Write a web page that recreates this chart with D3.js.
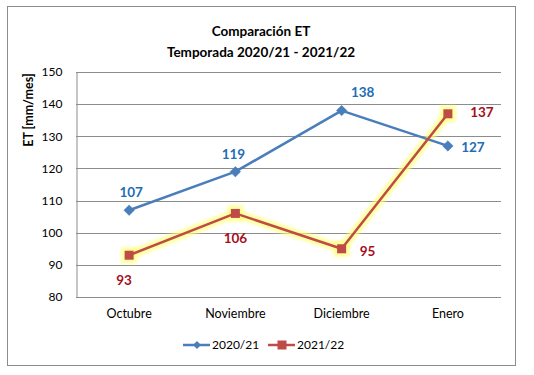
<!DOCTYPE html>
<html>
<head>
<meta charset="utf-8">
<script src="https://cdn.jsdelivr.net/npm/d3@7"></script>
<style>
  body { margin: 0; background: #fff; }
  svg text { font-family: Lato, "Open Sans", sans-serif; }
</style>
</head>
<body>
<div class="chart"></div>
<script>
// data
var months = ['Octubre', 'Noviembre', 'Diciembre', 'Enero'];
var et2021 = [107, 119, 138, 127];
var et2122 = [93, 106, 95, 137];
var yTicks = [80, 90, 100, 110, 120, 130, 140, 150];

var w = 534, h = 375;
var svg = d3.select('div.chart').append('svg')
  .attr('width', w).attr('height', h);

// outer frame
svg.append('rect')
  .attr('x', 7.5).attr('y', 6.5).attr('width', 508).attr('height', 359)
  .attr('fill', '#fff').attr('stroke', '#8c8c8c').attr('stroke-width', 1);

var plotL = 76, plotR = 501, plotT = 72, plotB = 297;

var x = d3.scaleBand().domain(months).range([plotL, plotR]);
var y = d3.scaleLinear().domain([80, 150]).range([plotB, plotT]);
var cx = function(d, i) { return x(months[i]) + x.bandwidth() / 2; };

// glow filter for 2021/22
var defs = svg.append('defs');
var f = defs.append('filter').attr('id', 'glow')
  .attr('x', '-20%').attr('y', '-20%').attr('width', '140%').attr('height', '140%');
f.append('feGaussianBlur').attr('stdDeviation', 1.8);

// gridlines
svg.append('g').selectAll('line').data(yTicks).enter().append('line')
  .attr('x1', plotL).attr('x2', plotR)
  .attr('y1', function(d) { return Math.round(y(d)) + 0.5; })
  .attr('y2', function(d) { return Math.round(y(d)) + 0.5; })
  .attr('stroke', '#8c8c8c').attr('stroke-width', 1);

// y axis
var yAxis = svg.append('g').attr('transform', 'translate(' + (plotL + 0.5) + ',0)')
  .call(d3.axisLeft(y).tickValues(yTicks).tickSize(0).tickPadding(14));
yAxis.select('.domain').attr('stroke', '#8c8c8c');
yAxis.selectAll('text').attr('font-size', 12).attr('fill', '#000');

// x axis
var xAxis = svg.append('g').attr('transform', 'translate(0,' + (plotB + 0.5) + ')')
  .call(d3.axisBottom(x).tickSize(0).tickPadding(12));
xAxis.select('.domain').remove();
xAxis.selectAll('text').attr('font-size', 12.5).attr('fill', '#000');

// title
svg.append('text').attr('x', 261).attr('y', 36).attr('text-anchor', 'middle')
  .attr('font-weight', 'bold').attr('font-size', 13.5).text('Comparación ET');
svg.append('text').attr('x', 261).attr('y', 57).attr('text-anchor', 'middle')
  .attr('font-weight', 'bold').attr('font-size', 13.5).text('Temporada 2020/21 - 2021/22');

// y label
svg.append('text').attr('transform', 'translate(33,110) rotate(-90)')
  .attr('text-anchor', 'middle').attr('font-weight', 'bold').attr('font-size', 12.5)
  .text('ET [mm/mes]');

var line = d3.line().x(cx).y(function(d) { return y(d); });

var blue = '#4a7ebb', red = '#be4b48';

// glow under red line
svg.append('path').datum(et2122).attr('d', line)
  .attr('fill', 'none').attr('stroke', '#ffff80').attr('stroke-width', 9)
  .attr('stroke-linejoin', 'round').attr('opacity', 0.75).attr('filter', 'url(#glow)');
svg.append('g').selectAll('rect').data(et2122).enter().append('rect')
  .attr('x', function(d, i) { return cx(d, i) - 8; })
  .attr('y', function(d) { return y(d) - 8; })
  .attr('width', 16).attr('height', 16)
  .attr('fill', '#ffff80').attr('opacity', 0.75).attr('filter', 'url(#glow)');

// blue line
svg.append('path').datum(et2021).attr('d', line)
  .attr('fill', 'none').attr('stroke', blue).attr('stroke-width', 2.5)
  .attr('stroke-linejoin', 'round');
svg.append('g').selectAll('path').data(et2021).enter().append('path')
  .attr('d', d3.symbol(d3.symbolDiamond2, 70))
  .attr('transform', function(d, i) { return 'translate(' + cx(d, i) + ',' + y(d) + ')'; })
  .attr('fill', blue).attr('stroke', blue).attr('stroke-width', 0.5);

// red line
svg.append('path').datum(et2122).attr('d', line)
  .attr('fill', 'none').attr('stroke', red).attr('stroke-width', 2.5)
  .attr('stroke-linejoin', 'round');
svg.append('g').selectAll('rect').data(et2122).enter().append('rect')
  .attr('x', function(d, i) { return cx(d, i) - 4.5; })
  .attr('y', function(d) { return y(d) - 4.5; })
  .attr('width', 9).attr('height', 9)
  .attr('fill', red);

// data labels
var blueOff = [[2, -18], [-2, -17], [21, -18], [25, 1]];
var redOff = [[-5, 25], [0, 25], [26, 2], [34, -2]];
svg.append('g').selectAll('text').data(et2021).enter().append('text')
  .attr('x', function(d, i) { return cx(d, i) + blueOff[i][0]; })
  .attr('y', function(d, i) { return y(d) + blueOff[i][1]; })
  .attr('dy', '0.35em').attr('text-anchor', 'middle')
  .attr('font-weight', 'bold').attr('font-size', 13.5).attr('fill', '#1f6db5')
  .text(function(d) { return d; });
svg.append('g').selectAll('text').data(et2122).enter().append('text')
  .attr('x', function(d, i) { return cx(d, i) + redOff[i][0]; })
  .attr('y', function(d, i) { return y(d) + redOff[i][1]; })
  .attr('dy', '0.35em').attr('text-anchor', 'middle')
  .attr('font-weight', 'bold').attr('font-size', 13.5).attr('fill', '#a50f1e')
  .text(function(d) { return d; });

// legend
var legend = [{name: '2020/21', color: blue, x: 183, shape: 'diamond'},
              {name: '2021/22', color: red, x: 268, shape: 'square'}];
var lg = svg.append('g').selectAll('g').data(legend).enter().append('g')
  .attr('transform', function(d) { return 'translate(' + d.x + ',345)'; });
lg.append('line').attr('x1', 0).attr('x2', 27).attr('stroke', function(d) { return d.color; })
  .attr('stroke-width', 2.5);
lg.filter(function(d) { return d.shape === 'diamond'; }).append('path')
  .attr('d', d3.symbol(d3.symbolDiamond2, 40)).attr('transform', 'translate(14,0)')
  .attr('fill', blue);
lg.filter(function(d) { return d.shape === 'square'; }).append('rect')
  .attr('x', 9.5).attr('y', -4.5).attr('width', 9).attr('height', 9).attr('fill', red);
lg.append('text').attr('x', 29).attr('dy', '0.35em').attr('font-size', 12)
  .text(function(d) { return d.name; });
</script>
</body>
</html>
